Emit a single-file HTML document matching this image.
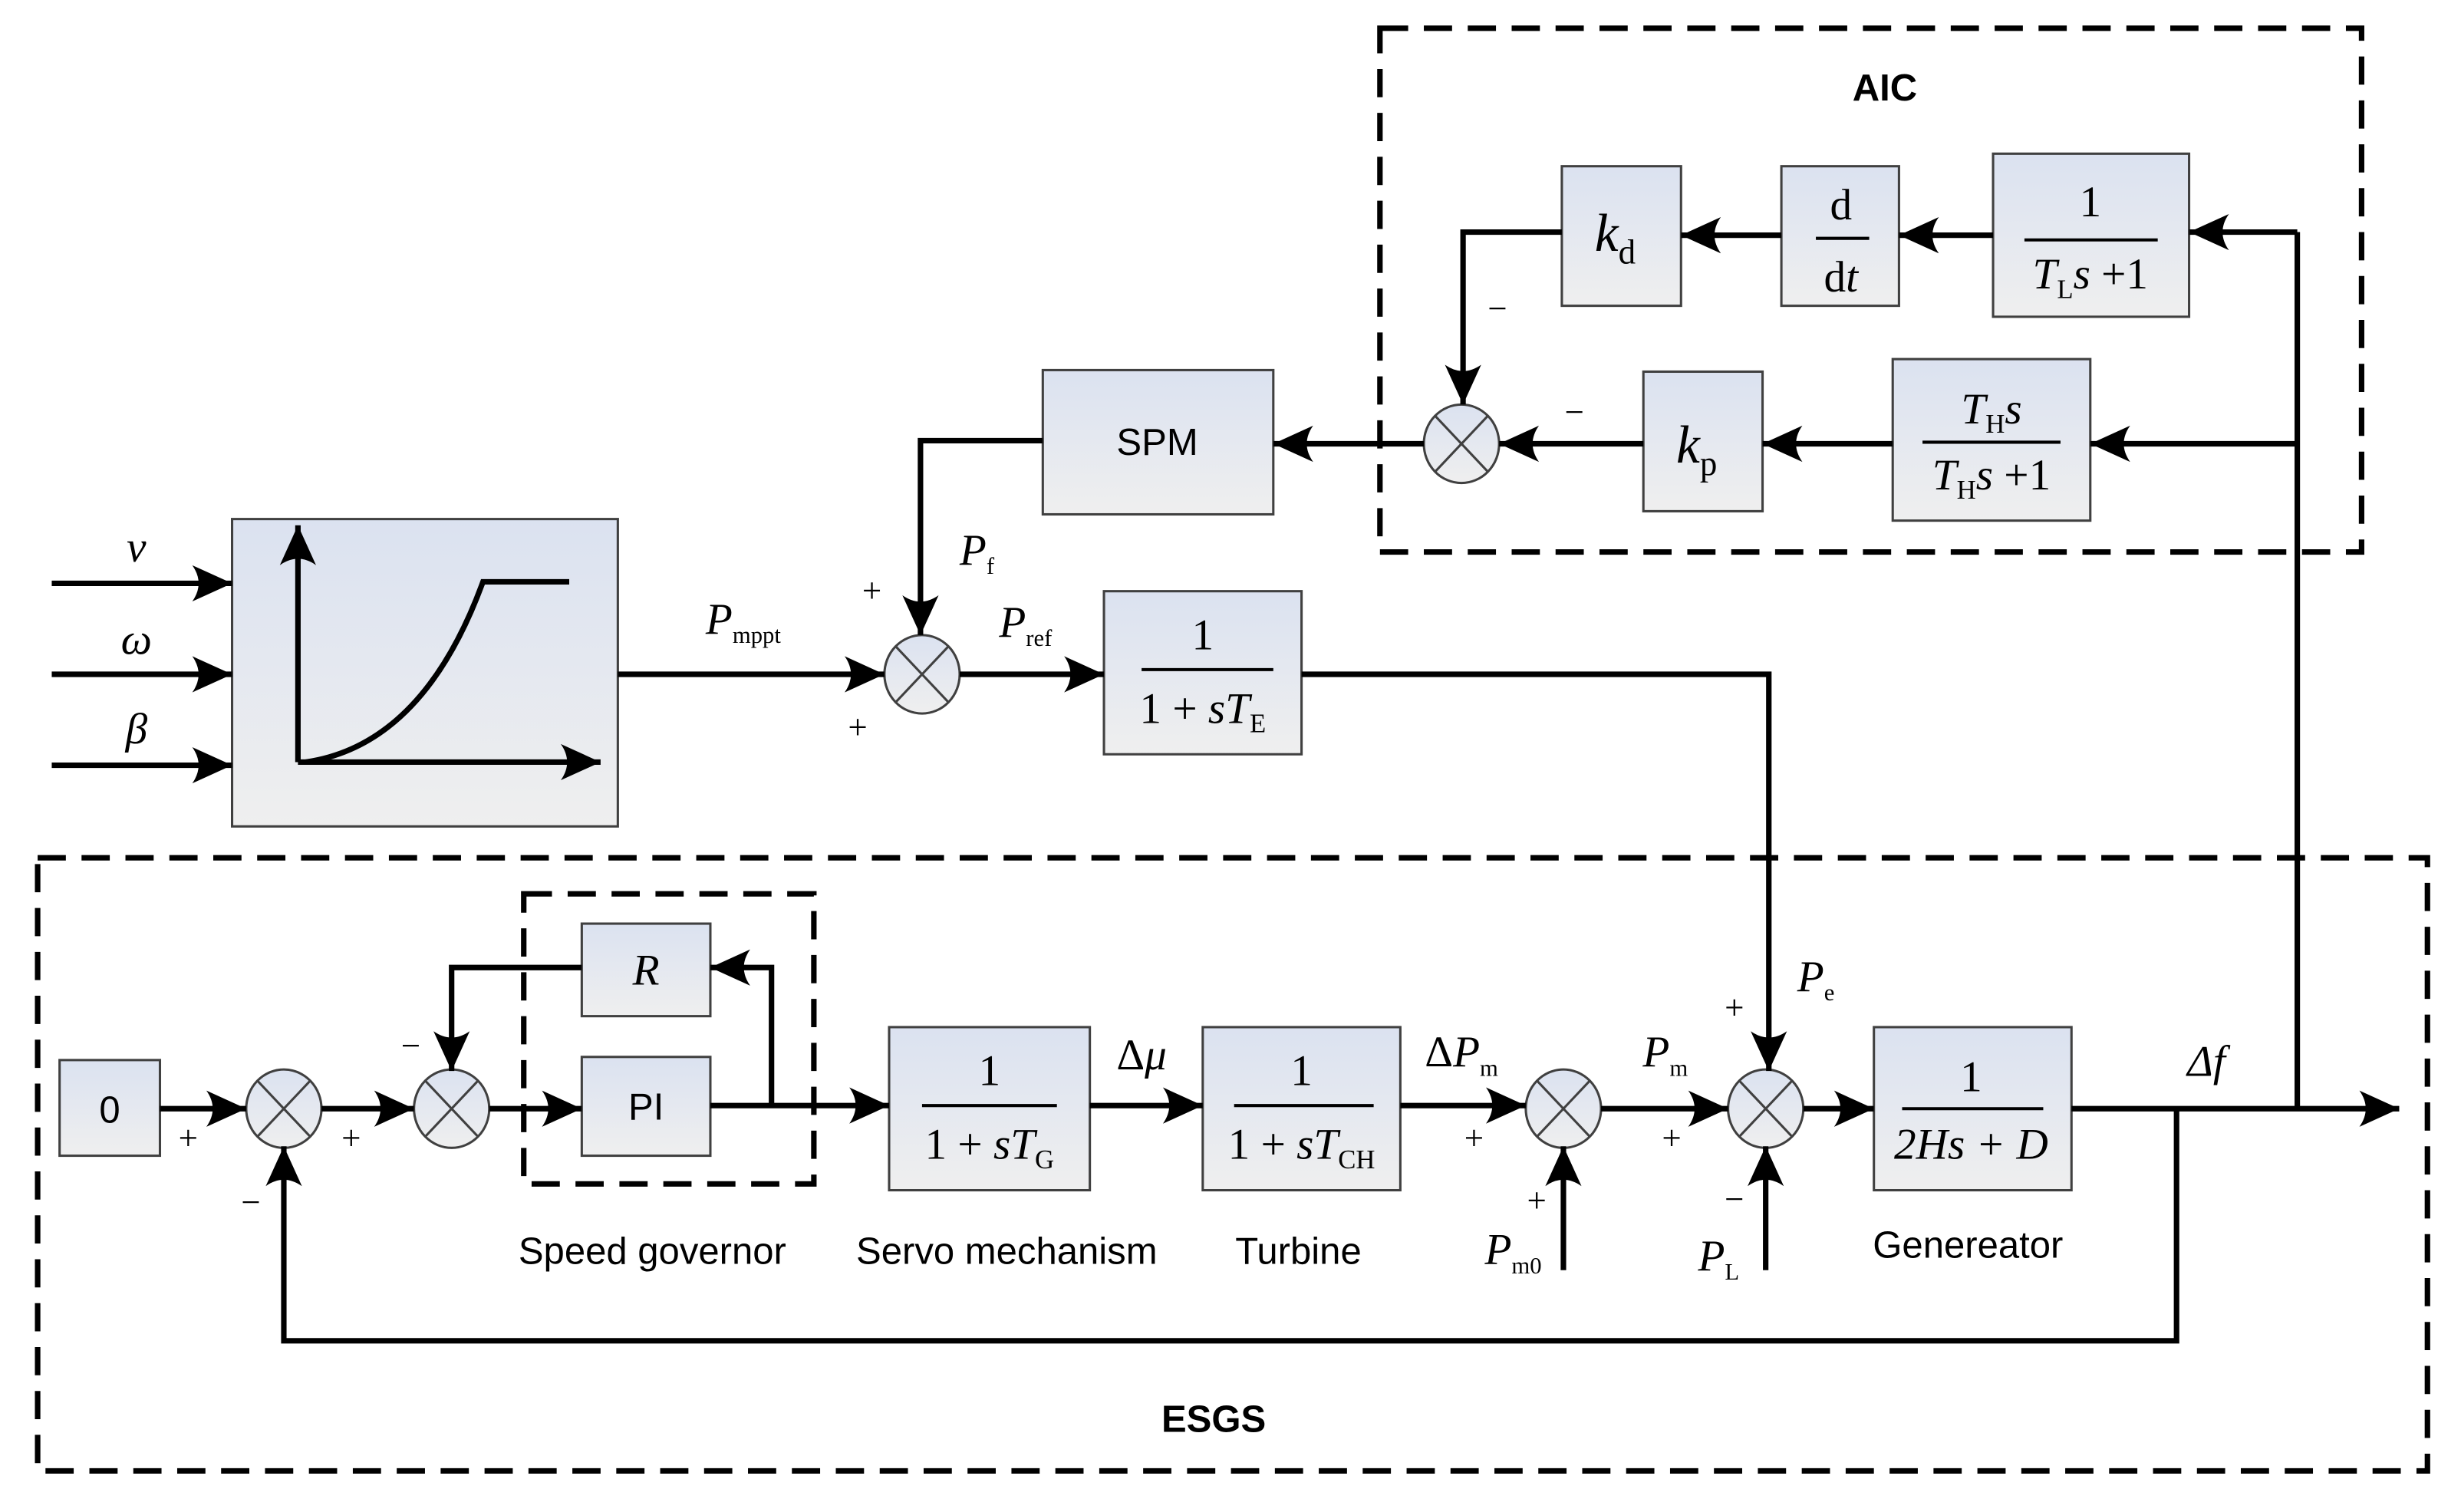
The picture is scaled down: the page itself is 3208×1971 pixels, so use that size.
<!DOCTYPE html>
<html><head><meta charset="utf-8"><style>html,body{margin:0;padding:0;background:#fff}svg{display:block}
.m{font-family:"Liberation Serif",serif}
.s{font-family:"Liberation Sans",sans-serif}
</style></head><body>
<svg width="3208" height="1971" viewBox="0 0 1569.4 964.2" preserveAspectRatio="none" xmlns="http://www.w3.org/2000/svg">
<defs>
<linearGradient id="g" x1="0" y1="0" x2="0" y2="1"><stop offset="0" stop-color="#dbe2f0"/><stop offset="1" stop-color="#efefef"/></linearGradient>
<marker id="a" markerUnits="userSpaceOnUse" markerWidth="30" markerHeight="30" refX="22" refY="0" viewBox="-2 -12 26 24" orient="auto"><path d="M0,-10 L22,0 L0,10 Q7,0 0,-10Z" fill="#000"/></marker>
</defs>
<g fill="none" stroke="#000" stroke-width="3.5" stroke-dasharray="18 10">
<rect x="880" y="18" width="626" height="334"/>
<rect x="24" y="547" width="1524" height="391"/>
<rect x="334" y="570" width="185" height="185"/>
</g>
<g fill="url(#g)" stroke="#404040" stroke-width="1.5">
<rect x="996" y="106" width="76" height="89"/>
<rect x="1136" y="106" width="75" height="89"/>
<rect x="1271" y="98" width="125" height="104"/>
<rect x="1207" y="229" width="126" height="103"/>
<rect x="1048" y="237" width="76" height="89"/>
<rect x="665" y="236" width="147" height="92"/>
<rect x="148" y="331" width="246" height="196"/>
<rect x="704" y="377" width="126" height="104"/>
<rect x="38" y="676" width="64" height="61"/>
<rect x="371" y="674" width="82" height="63"/>
<rect x="371" y="589" width="82" height="59"/>
<rect x="567" y="655" width="128" height="104"/>
<rect x="767" y="655" width="126" height="104"/>
<rect x="1195" y="655" width="126" height="104"/>
<ellipse cx="932" cy="283" rx="24" ry="25"/>
<ellipse cx="588" cy="430" rx="24" ry="25"/>
<ellipse cx="181" cy="707" rx="24" ry="25"/>
<ellipse cx="288" cy="707" rx="24" ry="25"/>
<ellipse cx="997" cy="707" rx="24" ry="25"/>
<ellipse cx="1126" cy="707" rx="24" ry="25"/>
</g>
<g stroke="#404040" stroke-width="1.5">
<path d="M915,265 L949,301 M949,265 L915,301"/>
<path d="M571,412 L605,448 M605,412 L571,448"/>
<path d="M164,689 L198,725 M198,689 L164,725"/>
<path d="M271,689 L305,725 M305,689 L271,725"/>
<path d="M980,689 L1014,725 M1014,689 L980,725"/>
<path d="M1109,689 L1143,725 M1143,689 L1109,725"/>
</g>
<g fill="none" stroke="#000" stroke-width="3.5" marker-end="url(#a)">
<path d="M1465,148 L1396,148"/>
<path d="M1271,150 L1211,150"/>
<path d="M1136,150 L1072,150"/>
<path d="M996,148 L933,148 L933,258"/>
<path d="M1465,283 L1333,283"/>
<path d="M1207,283 L1124,283"/>
<path d="M1048,283 L956,283"/>
<path d="M908,283 L812,283"/>
<path d="M665,281 L587,281 L587,405"/>
<path d="M33,372 L148,372"/>
<path d="M33,430 L148,430"/>
<path d="M33,488 L148,488"/>
<path d="M394,430 L564,430"/>
<path d="M612,430 L704,430"/>
<path d="M830,430 L1128,430 L1128,683"/>
<path d="M102,707 L157,707"/>
<path d="M205,707 L264,707"/>
<path d="M312,707 L371,707"/>
<path d="M453,705 L567,705"/>
<path d="M492,705 L492,617 L453,617"/>
<path d="M371,617 L288,617 L288,683"/>
<path d="M695,705 L767,705"/>
<path d="M893,705 L973,705"/>
<path d="M1021,707 L1102,707"/>
<path d="M1150,707 L1195,707"/>
<path d="M1321,707 L1530,707"/>
<path d="M1388,707 L1388,855 L181,855 L181,731"/>
<path d="M997,810 L997,731"/>
<path d="M1126,810 L1126,731"/>
<path d="M190,486 L190,335"/>
<path d="M190,486 L383,486"/>
</g>
<path d="M1465,148 L1465,707" stroke="#000" stroke-width="3.5" fill="none"/>
<path d="M195,486 Q270,475 308,371 L363,371" stroke="#000" stroke-width="3.5" fill="none"/>
<g class="m" font-size="28" text-anchor="middle" fill="#000">
<text x="1030" y="160" font-style="italic" font-size="34">k<tspan font-style="normal" font-size="22" dy="8">d</tspan></text>
<text x="1082" y="295" font-style="italic" font-size="34">k<tspan font-style="normal" font-size="22" dy="8">p</tspan></text>
<text x="1174" y="140">d</text><path d="M1158,152 L1192,152" stroke="#000" stroke-width="2"/><text x="1174" y="186">d<tspan font-style="italic">t</tspan></text>
<text x="1333" y="138">1</text><path d="M1291,153 L1376,153" stroke="#000" stroke-width="2"/><text x="1333" y="184"><tspan font-style="italic">T</tspan><tspan font-size="17" dy="6">L</tspan><tspan dy="-6" font-style="italic">s</tspan> +1</text>
<text x="1270" y="270"><tspan font-style="italic">T</tspan><tspan font-size="17" dy="6">H</tspan><tspan dy="-6" font-style="italic">s</tspan></text><path d="M1226,282 L1314,282" stroke="#000" stroke-width="2"/><text x="1270" y="312"><tspan font-style="italic">T</tspan><tspan font-size="17" dy="6">H</tspan><tspan dy="-6" font-style="italic">s</tspan> +1</text>
<text x="767" y="414">1</text><path d="M728,427 L812,427" stroke="#000" stroke-width="2"/><text x="767" y="461">1 + <tspan font-style="italic">sT</tspan><tspan font-size="17" dy="6">E</tspan></text>
<text x="631" y="692">1</text><path d="M588,705 L674,705" stroke="#000" stroke-width="2"/><text x="631" y="739">1 + <tspan font-style="italic">sT</tspan><tspan font-size="17" dy="6">G</tspan></text>
<text x="830" y="692">1</text><path d="M787,705 L876,705" stroke="#000" stroke-width="2"/><text x="830" y="739">1 + <tspan font-style="italic">sT</tspan><tspan font-size="17" dy="6">CH</tspan></text>
<text x="1257" y="696">1</text><path d="M1213,707 L1303,707" stroke="#000" stroke-width="2"/><text x="1257" y="739" font-style="italic">2Hs + D</text>
<text x="412" y="628" font-style="italic">R</text>
<text x="87" y="358" font-style="italic">v</text>
<text x="87" y="417" font-style="italic">ω</text>
<text x="87" y="474" font-style="italic">β</text>
<text x="474" y="404"><tspan font-style="italic">P</tspan><tspan font-size="15" dy="6">mppt</tspan></text>
<text x="623" y="360"><tspan font-style="italic">P</tspan><tspan font-size="15" dy="6">f</tspan></text>
<text x="654" y="406"><tspan font-style="italic">P</tspan><tspan font-size="15" dy="6">ref</tspan></text>
<text x="1158" y="632"><tspan font-style="italic">P</tspan><tspan font-size="15" dy="6">e</tspan></text>
<text x="728" y="682">Δ<tspan font-style="italic">μ</tspan></text>
<text x="932" y="680">Δ<tspan font-style="italic">P</tspan><tspan font-size="15" dy="6">m</tspan></text>
<text x="1062" y="680"><tspan font-style="italic">P</tspan><tspan font-size="15" dy="6">m</tspan></text>
<text x="965" y="806"><tspan font-style="italic">P</tspan><tspan font-size="15" dy="6">m0</tspan></text>
<text x="1096" y="810"><tspan font-style="italic">P</tspan><tspan font-size="15" dy="6">L</tspan></text>
<text x="1407" y="686" font-style="italic">Δf</text>
<g font-size="22"><text x="556" y="384">+</text><text x="547" y="471">+</text><text x="120" y="733">+</text><text x="224" y="733">+</text><text x="940" y="733">+</text><text x="1066" y="733">+</text><text x="980" y="773">+</text><text x="1106" y="650">+</text>
<text x="1004" y="270">−</text><text x="955" y="204">−</text><text x="262" y="674">−</text><text x="160" y="774">−</text><text x="1106" y="772">−</text></g>
</g>
<g class="s" font-size="24" text-anchor="middle" fill="#000">
<text x="738" y="290">SPM</text>
<text x="70" y="716">0</text>
<text x="412" y="714">PI</text>
<text x="416" y="806">Speed governor</text>
<text x="642" y="806">Servo mechanism</text>
<text x="828" y="806">Turbine</text>
<text x="1255" y="802">Genereator</text>
<text x="1202" y="64" font-weight="bold">AIC</text>
<text x="774" y="913" font-weight="bold">ESGS</text>
</g>
</svg>
</body></html>
